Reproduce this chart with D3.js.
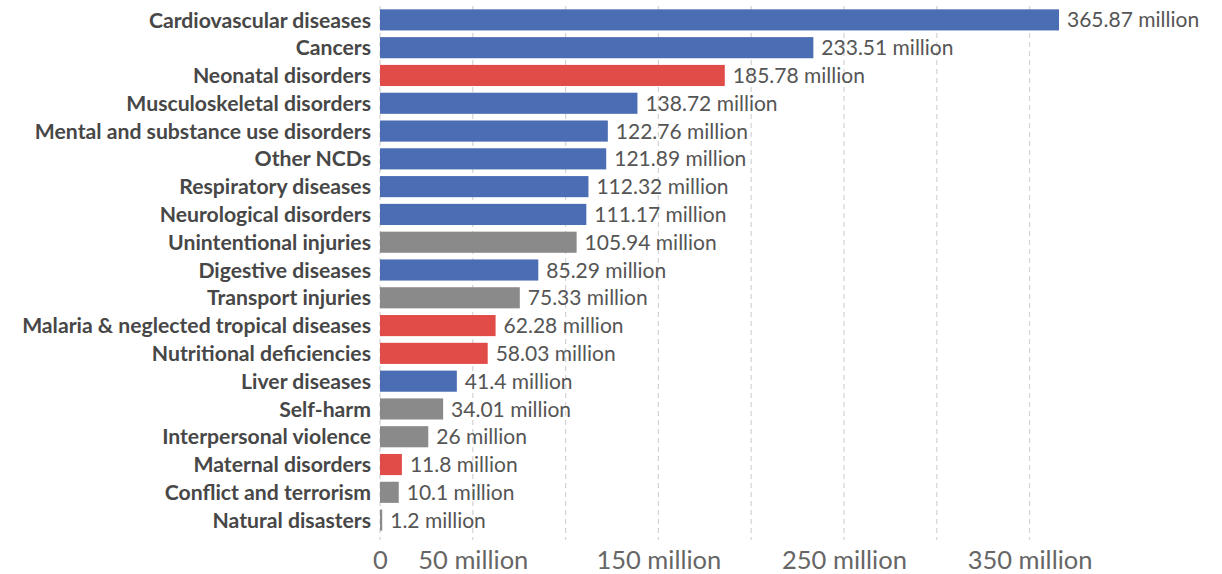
<!DOCTYPE html>
<html><head><meta charset="utf-8">
<script src="https://cdn.jsdelivr.net/npm/d3@7"></script>
<style>body{margin:0;background:#fff}svg{display:block}</style>
</head><body><svg id="c" width="1222" height="574"></svg>
<script>
const categories = ["Cardiovascular diseases","Cancers","Neonatal disorders","Musculoskeletal disorders","Mental and substance use disorders","Other NCDs","Respiratory diseases","Neurological disorders","Unintentional injuries","Digestive diseases","Transport injuries","Malaria & neglected tropical diseases","Nutritional deficiencies","Liver diseases","Self-harm","Interpersonal violence","Maternal disorders","Conflict and terrorism","Natural disasters"];
const values = [365.87,233.51,185.78,138.72,122.76,121.89,112.32,111.17,105.94,85.29,75.33,62.28,58.03,41.4,34.01,26,11.8,10.1,1.2];
const groups = ["ncd","ncd","cmnn","ncd","ncd","ncd","ncd","ncd","inj","ncd","inj","cmnn","cmnn","ncd","inj","inj","cmnn","inj","inj"];
const gridTicks = [0,50,100,150,200,250,300,350];
const labelTicks = [0,50,150,250,350];

const colors = {ncd:"#4a6db3", cmnn:"#e24c48", inj:"#8a8a8a"};
const svg = d3.select("#c");
const x = d3.scaleLinear().domain([0,365.87]).range([380,1059]);
const y = d3.scaleBand().domain(categories).range([6,534]).paddingInner(0.24).paddingOuter(0.12);
const font = "Lato, 'Open Sans', sans-serif";

svg.append("g").selectAll("line").data(gridTicks).join("line")
  .attr("x1",d=>x(d)).attr("x2",d=>x(d)).attr("y1",6).attr("y2",540)
  .attr("stroke","#d6d6d6").attr("stroke-width",1.3).attr("stroke-dasharray","5,4");

const data = categories.map((c,i)=>({c, v:values[i], g:groups[i]}));
svg.append("g").selectAll("rect").data(data).join("rect")
  .attr("x",x(0)).attr("y",d=>y(d.c)).attr("width",d=>Math.max(1.5,x(d.v)-x(0))).attr("height",y.bandwidth())
  .attr("fill",d=>colors[d.g]);

svg.append("g").selectAll("text").data(data).join("text")
  .attr("x",371).attr("y",d=>y(d.c)+y.bandwidth()/2).attr("dy","0.36em")
  .attr("text-anchor","end").attr("font-family",font).attr("font-weight","bold")
  .attr("font-size",21.2).attr("fill","#474747").text(d=>d.c);

svg.append("g").selectAll("text").data(data).join("text")
  .attr("x",d=>x(d.v)+8).attr("y",d=>y(d.c)+y.bandwidth()/2).attr("dy","0.36em")
  .attr("font-family",font).attr("font-size",21).attr("fill","#555")
  .text(d=>d.v+" million");

const axis = d3.axisBottom(x).tickValues(labelTicks).tickSize(0).tickPadding(0)
  .tickFormat(d=>d===0?"0":d+" million");
const ag = svg.append("g").attr("transform","translate(0,551)").call(axis);
ag.select(".domain").remove();
ag.selectAll("text").attr("font-family",font).attr("font-size",25.5).attr("fill","#666").attr("dy","0.71em");
</script></body></html>
